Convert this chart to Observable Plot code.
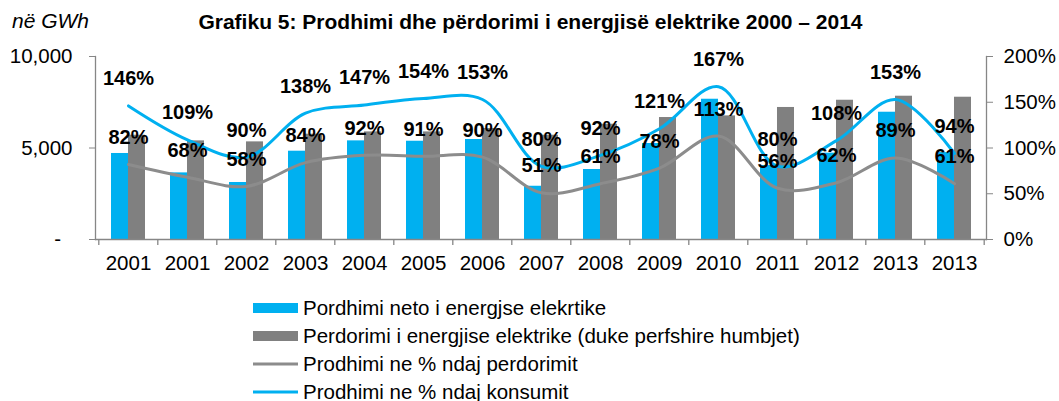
<!DOCTYPE html>
<html>
<head>
<meta charset="utf-8">
<script src="https://cdn.jsdelivr.net/npm/d3@7"></script>
<script src="https://cdn.jsdelivr.net/npm/@observablehq/plot@0.6"></script>
<style>
  html, body { margin: 0; padding: 0; background: #fff; }
  body { position: relative; width: 1059px; height: 401px; overflow: hidden; font-family: "Liberation Sans", Arial, sans-serif; }
  #title { position: absolute; top: 10px; left: 0; width: 1059px; padding-left: 1px; text-align: center; font-weight: bold; font-size: 21px; color: #000; }
  #unit { position: absolute; top: 9px; left: 12px; font-style: italic; font-size: 21px; color: #000; }
  #chart { position: absolute; top: 0; left: 0; }
  #legend { position: absolute; top: 294px; left: 253px; font-size: 20.5px; color: #000; }
  .row { height: 28px; line-height: 28px; display: flex; align-items: center; white-space: nowrap; }
  .row svg { margin-right: 5px; flex: none; }
</style>
</head>
<body>
<div id="chart"></div>
<div id="unit">në GWh</div>
<div id="title">Grafiku 5: Prodhimi dhe përdorimi i energjisë elektrike 2000 – 2014</div>
<div id="legend"></div>
<script>
const labels = ["2001","2001","2002","2003","2004","2005","2006","2007","2008","2009","2010","2011","2012","2013","2013"];
const production = [4700,3640,3115,4825,5390,5370,5465,2910,3825,5245,7665,4040,4720,6955,4750];
const usage = [5700,5390,5335,5755,5880,5880,6065,5700,6300,6665,6755,7215,7610,7830,7775];
const pctOfUsage = [82,68,58,84,92,91,90,51,61,78,113,56,62,89,61];
const pctOfConsumption = [146,109,90,138,147,154,153,80,92,121,167,80,108,153,94];
const leftTicks = [0,5000,10000];
const rightTicks = [0,50,100,150,200];
const seriesNames = [
  "Pordhimi neto i energjse elekrtike",
  "Perdorimi i energjise elektrike (duke perfshire humbjet)",
  "Prodhimi ne % ndaj perdorimit",
  "Prodhimi ne % ndaj konsumit"
];

const BLUE = "#00B0F0", GRAY = "#808080", LGRAY = "#8C8C8C", AXIS = "#868686";
const W = 1059, H = 280, mL = 95, mR = 73, mT = 56, mB = 41;
const RATIO = 10000 / 200; // right axis 200% == left 10,000
const idx = labels.map((_, i) => i);
const rows = idx.map(i => ({i, prod: production[i], use: usage[i], pu: pctOfUsage[i], pc: pctOfConsumption[i]}));
const step = (W - mL - mR) / labels.length;
const band = step * 0.572;

const chart = Plot.plot({
  width: W, height: H,
  marginLeft: mL, marginRight: mR, marginTop: mT, marginBottom: mB,
  style: {fontFamily: "'Liberation Sans', Arial, sans-serif", fontSize: "20.5px", color: "#000", background: "#fff"},
  x: {type: "band", domain: idx, paddingInner: 0.428, paddingOuter: 0.214},
  y: {domain: [0, 10000]},
  marks: [
    Plot.barY(rows, {x: "i", y: "prod", fill: BLUE, insetRight: band / 2, insetLeft: 0}),
    Plot.barY(rows, {x: "i", y: "use", fill: GRAY, insetLeft: band / 2, insetRight: 0}),
    Plot.line(rows, {x: "i", y: d => d.pu * RATIO, curve: "catmull-rom", stroke: LGRAY, strokeWidth: 3}),
    Plot.line(rows, {x: "i", y: d => d.pc * RATIO, curve: "catmull-rom", stroke: BLUE, strokeWidth: 3}),
    Plot.frame({anchor: "left", stroke: AXIS, strokeWidth: 1.3}),
    Plot.frame({anchor: "right", stroke: AXIS, strokeWidth: 1.3}),
    Plot.frame({anchor: "bottom", stroke: AXIS, strokeWidth: 1.3}),
    Plot.ruleX(idx, {x: d => d, dx: -step / 2, stroke: AXIS, strokeWidth: 1.3, insetTop: H - mT - mB, insetBottom: -6}),
    Plot.ruleX([labels.length - 1], {x: d => d, dx: step / 2, stroke: AXIS, strokeWidth: 1.3, insetTop: H - mT - mB, insetBottom: -6}),
    Plot.axisY(leftTicks, {anchor: "left", tickSize: 6, tickPadding: 17, stroke: AXIS, tickFormat: d => d === 0 ? "-\u00a0\u00a0" : d3.format(",")(d), label: null}),
    Plot.axisY(rightTicks.map(v => v * RATIO), {anchor: "right", tickSize: 6, tickPadding: 11, stroke: AXIS, tickFormat: d => (d / RATIO) + "%", label: null}),
    Plot.axisX(idx, {anchor: "bottom", tickSize: 0, tickPadding: 16, tickFormat: i => labels[i], label: null}),
    Plot.text(rows, {x: "i", y: d => d.pu * RATIO, text: d => d.pu + "%", dy: -27, fontWeight: "bold", fontSize: 20, fill: "#000"}),
    Plot.text(rows, {x: "i", y: d => d.pc * RATIO, text: d => d.pc + "%", dy: -27, fontWeight: "bold", fontSize: 20, fill: "#000"})
  ]
});
document.getElementById("chart").appendChild(chart);

const legend = document.getElementById("legend");
const swatches = [
  `<svg width="45" height="10"><rect width="45" height="10" fill="${BLUE}"/></svg>`,
  `<svg width="45" height="10"><rect width="45" height="10" fill="${GRAY}"/></svg>`,
  `<svg width="45" height="10"><line x1="0" x2="45" y1="5" y2="5" stroke="${LGRAY}" stroke-width="3"/></svg>`,
  `<svg width="45" height="10"><line x1="0" x2="45" y1="5" y2="5" stroke="${BLUE}" stroke-width="3"/></svg>`
];
seriesNames.forEach((name, k) => {
  const r = document.createElement("div");
  r.className = "row";
  r.innerHTML = swatches[k] + `<span>${name}</span>`;
  legend.appendChild(r);
});
</script>
</body>
</html>
